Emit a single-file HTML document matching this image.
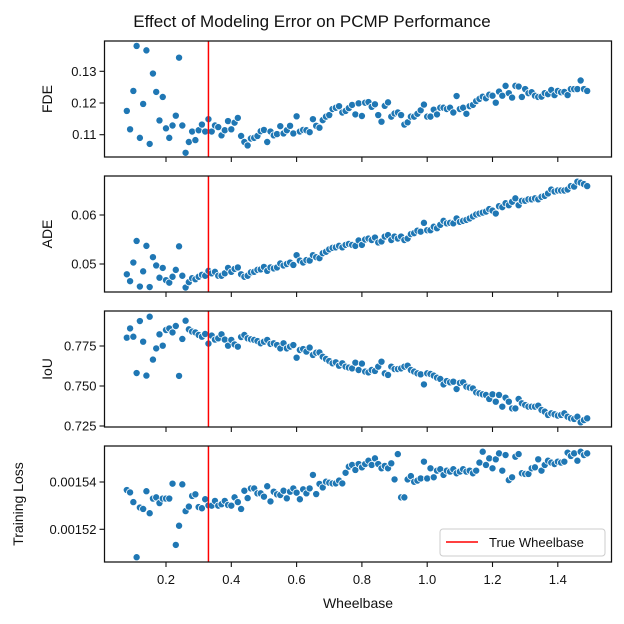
<!DOCTYPE html>
<html><head><meta charset="utf-8">
<style>
html,body{margin:0;padding:0;background:#fff;}
svg{display:block;font-family:"Liberation Sans",sans-serif;}
</style></head>
<body>
<svg id="chart" width="624" height="624" viewBox="0 0 624 624" xmlns="http://www.w3.org/2000/svg">
<rect width="624" height="624" fill="#fff"/>
<text x="312" y="27" text-anchor="middle" font-size="17" fill="#111">Effect of Modeling Error on PCMP Performance</text>
</svg>
<script>
const wheelbase = [0.08,0.09,0.10,0.11,0.12,0.13,0.14,0.15,0.16,0.17,0.18,0.19,0.20,0.21,0.22,0.23,0.24,0.25,0.26,0.27,0.28,0.29,0.30,0.31,0.32,0.33,0.34,0.35,0.36,0.37,0.38,0.39,0.40,0.41,0.42,0.43,0.44,0.45,0.46,0.47,0.48,0.49,0.50,0.51,0.52,0.53,0.54,0.55,0.56,0.57,0.58,0.59,0.60,0.61,0.62,0.63,0.64,0.65,0.66,0.67,0.68,0.69,0.70,0.71,0.72,0.73,0.74,0.75,0.76,0.77,0.78,0.79,0.80,0.81,0.82,0.83,0.84,0.85,0.86,0.87,0.88,0.89,0.90,0.91,0.92,0.93,0.94,0.95,0.96,0.97,0.98,0.99,1.00,1.01,1.02,1.03,1.04,1.05,1.06,1.07,1.08,1.09,1.10,1.11,1.12,1.13,1.14,1.15,1.16,1.17,1.18,1.19,1.20,1.21,1.22,1.23,1.24,1.25,1.26,1.27,1.28,1.29,1.30,1.31,1.32,1.33,1.34,1.35,1.36,1.37,1.38,1.39,1.40,1.41,1.42,1.43,1.44,1.45,1.46,1.47,1.48,1.49];
const fde = [0.1175,0.1117,0.1238,0.138,0.109,0.1197,0.1366,0.1071,0.1293,0.1235,
0.1145,0.1219,0.112,0.109,0.1129,0.116,0.1343,0.1129,0.1043,0.1077,
0.111,0.1083,0.1114,0.1132,0.111,0.1149,0.111,0.1129,0.1124,0.1098,
0.1114,0.1143,0.1117,0.1138,0.1153,0.1096,0.1077,0.1066,0.1088,0.109,
0.1096,0.1111,0.1115,0.1077,0.111,0.1098,0.1102,0.1127,0.1104,0.1114,
0.1128,0.1104,0.1158,0.111,0.1115,0.1114,0.1108,0.1149,0.1128,0.1122,
0.1146,0.1157,0.1162,0.1181,0.1185,0.119,0.117,0.1175,0.1184,0.1194,
0.1164,0.1199,
0.1159,0.1201,0.1203,0.1188,0.1196,0.1162,0.1141,0.1191,0.1202,0.1157,
0.1167,0.117,0.1162,0.1132,0.1139,0.1157,0.1157,0.1166,0.1177,0.1195,
0.1157,0.1157,0.1179,0.1164,0.1185,0.1185,0.1181,0.1185,0.117,0.1222,
0.1181,0.1185,0.1166,0.119,0.1194,0.1206,0.1213,0.122,0.1215,0.1226,
0.1223,0.1201,0.1236,0.1223,0.1254,0.1231,0.1217,0.1254,0.1252,0.1219,
0.1244,0.1231,0.1234,0.1223,0.1219,0.122,0.1231,0.1228,0.1241,0.1225,
0.1238,0.1234,0.1235,0.1225,0.1244,0.1244,0.1244,0.1271,0.1244,0.1238];
const ade = [0.0479,0.0465,0.0503,0.0547,0.0454,0.0485,0.0537,0.0453,0.0514,0.0497,
0.0472,0.0492,0.0467,0.0462,0.0474,0.0488,0.0536,0.0476,0.0452,0.0463,
0.0471,0.0469,0.0474,0.0478,0.0476,0.0486,0.0481,0.0484,0.0476,0.0476,
0.0481,0.0492,0.0484,0.049,0.0493,0.0479,0.0474,0.0476,0.0483,0.0484,
0.0488,0.0489,0.0494,0.0486,0.0493,0.0491,0.0493,0.0501,0.0497,0.05,
0.0503,0.0498,0.0518,
0.0507,0.0503,0.0508,0.0507,0.0518,0.0514,0.0512,0.0522,0.0525,0.053,
0.0533,0.0534,0.0537,0.0534,0.0539,0.0541,0.0539,0.0537,0.0548,0.0539,
0.055,0.0552,0.0549,0.0554,0.0544,0.0546,0.0556,0.0559,0.0549,0.0556,
0.0552,0.0556,0.0549,0.0552,0.0561,0.0563,0.0568,0.0566,0.0584,0.0569,
0.0569,0.0576,0.0573,0.058,0.0588,0.0583,0.0584,0.0583,0.0593,0.0586,
0.0588,0.059,0.0593,0.0597,0.0601,0.0603,0.0605,0.0607,0.0612,0.0609,
0.0603,0.0618,0.0616,0.0624,0.062,0.0627,0.0634,0.062,0.0629,0.0629,
0.0632,0.0632,0.0634,0.0632,0.0637,0.0639,0.0644,0.0652,0.0648,0.065,
0.065,0.065,0.0652,0.0659,0.0658,0.0668,0.0666,0.0663,0.0659];
const iou = [0.7802,0.786,0.7808,0.7581,0.7906,0.7777,0.7565,0.7933,0.7665,0.7735,
0.7823,0.7752,0.785,0.786,0.7835,0.7875,0.7563,0.7794,0.7908,0.7854,
0.784,0.7835,0.7819,0.7808,0.7825,0.7765,0.7815,0.779,0.7798,0.7823,
0.779,0.7752,0.7788,0.776,0.7746,0.7806,0.7819,0.7798,0.7792,0.7788,
0.7781,0.7767,0.7777,0.7788,0.7763,0.7767,0.7756,0.7735,0.7767,0.7735,
0.7746,0.7756,0.7677,
0.7725,0.7731,0.7715,0.774,0.7694,0.7708,0.771,0.7683,0.7669,0.7656,
0.7642,0.7648,0.7627,0.7642,0.7621,0.7615,0.761,0.7646,0.76,0.764,
0.759,0.7585,0.76,0.7594,0.7621,0.7652,0.7579,0.7569,0.7621,0.7606,
0.7606,0.761,0.7621,0.7627,0.76,0.759,0.7579,0.7573,0.751,0.7579,
0.7575,0.7565,0.7552,0.7544,0.751,0.7531,0.7523,0.7527,0.7481,0.7519,
0.7523,0.7496,0.749,0.7485,0.746,0.7454,0.7448,0.7444,0.7419,0.7448,
0.7402,0.7444,0.7371,0.7427,0.7402,0.736,0.736,0.7419,0.7392,0.7381,
0.7371,0.7371,0.7371,0.7377,0.735,0.734,0.7319,0.7329,0.7323,0.7315,
0.7319,0.7329,0.7308,0.7298,0.7294,0.7308,0.7273,0.7287,0.7298];
const loss = [0.0015366,0.0015356,0.0015315,0.0015082,0.0015292,0.0015286,0.0015361,0.0015268,0.001533,0.0015335,
0.0015311,0.001533,0.001533,0.001533,0.0015393,0.0015134,0.0015215,0.001539,0.0015277,0.0015296,
0.0015341,0.0015348,0.0015294,0.0015289,0.0015327,0.0015301,0.00153,0.001532,0.00153,0.0015306,
0.001532,0.0015303,0.00153,0.0015335,0.0015315,0.0015286,0.0015363,0.0015332,0.0015373,0.0015373,
0.0015352,0.0015352,0.0015338,0.0015382,0.0015318,0.0015359,0.0015348,0.0015345,0.0015363,0.0015331,
0.0015359,0.0015373,0.0015355,
0.0015327,0.0015369,0.0015352,0.0015373,0.001543,0.0015349,0.0015392,0.0015377,0.0015401,0.0015397,
0.0015394,0.0015394,0.0015406,0.0015394,0.0015439,0.0015465,0.0015472,0.0015451,0.0015476,0.0015462,
0.0015476,0.001549,0.0015472,0.00155,0.0015476,0.0015458,0.0015468,0.0015458,0.0015479,0.0015411,
0.0015518,0.0015335,0.0015335,0.0015411,0.0015425,0.0015401,0.0015406,0.0015415,0.0015486,0.0015415,
0.0015458,0.001542,0.0015448,0.0015454,0.001543,0.0015448,0.0015444,0.0015454,0.0015437,0.0015444,
0.0015454,0.0015444,0.0015448,0.0015437,0.0015448,0.0015482,0.0015528,0.0015472,0.00155,0.0015458,
0.0015496,0.0015521,0.0015448,0.0015514,0.0015408,0.001542,0.0015507,0.0015518,0.0015437,0.0015434,
0.0015434,0.0015458,0.0015462,0.0015496,0.0015448,0.0015472,0.001549,0.0015482,0.0015476,0.0015486,
0.0015482,0.0015486,0.0015524,0.001551,0.0015521,0.001549,0.0015528,0.0015514,0.0015521];
const xTicks = [0.2,0.4,0.6,0.8,1.0,1.2,1.4];
const xTickLabels = ["0.2","0.4","0.6","0.8","1.0","1.2","1.4"];
const fdeTicks = [0.11,0.12,0.13];
const fdeTickLabels = ["0.11","0.12","0.13"];
const adeTicks = [0.05,0.06];
const adeTickLabels = ["0.05","0.06"];
const iouTicks = [0.725,0.75,0.775];
const iouTickLabels = ["0.725","0.750","0.775"];
const lossTicks = [0.00152,0.00154];
const lossTickLabels = ["0.00152","0.00154"];
const trueWheelbase = 0.33;

const NS = "http://www.w3.org/2000/svg";
const svg = document.getElementById('chart');
const L = 104.5, R = 611.5;
function X(v){ return 100.7 + 326.5*v; }
function mk(tag, attrs, parent){
  const e = document.createElementNS(NS, tag);
  for (const k in attrs) e.setAttribute(k, attrs[k]);
  (parent||svg).appendChild(e);
  return e;
}
const panels = [
  {name:'fde', label:'FDE', vals:fde, top:41, bot:157, ref:0.11, refY:134.7, scale:3170, ticks:fdeTicks, tl:fdeTickLabels},
  {name:'ade', label:'ADE', vals:ade, top:176, bot:292, ref:0.05, refY:264, scale:4900, ticks:adeTicks, tl:adeTickLabels},
  {name:'iou', label:'IoU', vals:iou, top:311, bot:427, ref:0.775, refY:346, scale:1600, ticks:iouTicks, tl:iouTickLabels},
  {name:'loss', label:'Training Loss', vals:loss, top:446, bot:562, ref:0.00154, refY:482, scale:2365000, ticks:lossTicks, tl:lossTickLabels}
];
panels.forEach((p, pi) => {
  const Y = v => p.refY - (v - p.ref)*p.scale;
  const g = mk('g', {});
  
  
  const clipId = 'clip' + pi;
  const cp = mk('clipPath', {id: clipId}, g);
  mk('rect', {x:L, y:p.top, width:R-L, height:p.bot-p.top}, cp);
  const pts = mk('g', {'clip-path':'url(#'+clipId+')'}, g);
  for (let i=0;i<wheelbase.length;i++){
    const c = mk('circle', {cx:X(wheelbase[i]).toFixed(2), cy:Y(p.vals[i]).toFixed(2), r:3.6, fill:'#1f77b4', stroke:'#fff', 'stroke-width':0.8}, pts);
    
    
  }
  const rl = mk('line', {x1:X(trueWheelbase), x2:X(trueWheelbase), y1:p.top, y2:p.bot, stroke:'#ff0000', 'stroke-width':1.5}, g);
  
  
  const fr = mk('rect', {x:L, y:p.top, width:R-L, height:p.bot-p.top, fill:'none', stroke:'#111', 'stroke-width':1.25}, g);
  
  
  p.ticks.forEach((t, ti) => {
    const y = Y(t);
    mk('line', {x1:L-5, x2:L, y1:y, y2:y, stroke:'#111', 'stroke-width':1.1}, g);
    const tx = mk('text', {x:L-8, y:y+4.5, 'text-anchor':'end', 'font-size':13, fill:'#111'}, g);
    tx.textContent = p.tl[ti];
    
    
  });
  xTicks.forEach(t => {
    mk('line', {x1:X(t), x2:X(t), y1:p.bot, y2:p.bot+5, stroke:'#111', 'stroke-width':1.1}, g);
  });
  const cy = (p.top+p.bot)/2;
  const yl = mk('text', {x:0, y:0, transform:'translate(' + (pi===3?23:52) + ',' + cy + ') rotate(-90)', 'text-anchor':'middle', 'font-size':14, fill:'#111'}, g);
  yl.textContent = p.label;
  
  
});
xTicks.forEach((t, i) => {
  const tx = mk('text', {x:X(t), y:584, 'text-anchor':'middle', 'font-size':13, fill:'#111'});
  tx.textContent = xTickLabels[i];
  
  
});
const xt = mk('text', {x:(L+R)/2, y:608, 'text-anchor':'middle', 'font-size':14, fill:'#111'});
xt.textContent = 'Wheelbase';


const lg = mk('g', {});


mk('rect', {x:440, y:529, width:165, height:27, rx:3, fill:'#fff', 'fill-opacity':0.85, stroke:'#ccc', 'stroke-width':1}, lg);
mk('line', {x1:446, x2:478, y1:542, y2:542, stroke:'#ff0000', 'stroke-width':1.5}, lg);
const lt = mk('text', {x:489, y:547, 'font-size':13, fill:'#111'}, lg);
lt.textContent = 'True Wheelbase';


</script>
</body></html>
